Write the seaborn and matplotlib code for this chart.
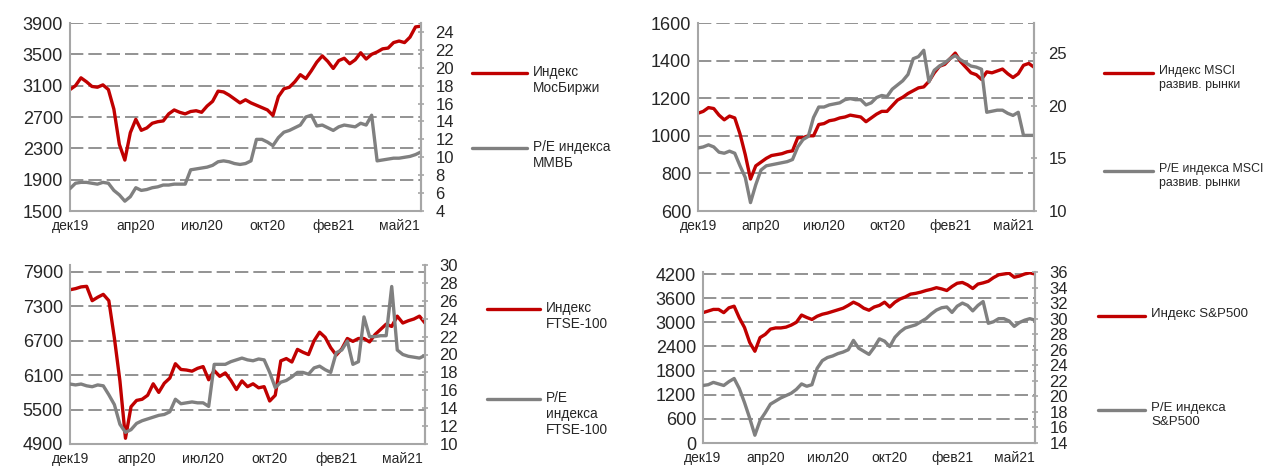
import numpy as np
import matplotlib.pyplot as plt
import seaborn as sns
from matplotlib.lines import Line2D

# x-axis labels (one label every 12 points)
month_labels = ["дек19", "апр20", "июл20", "окт20", "фев21", "май21"]
step = 12

# MOEX index and P/E of MICEX
moex = [3050, 3100, 3200, 3150, 3090, 3080, 3110, 3050, 2800, 2350,
        2150, 2500, 2670, 2530, 2560, 2620, 2640, 2650, 2740, 2790,
        2760, 2740, 2770, 2780, 2760, 2840, 2900, 3030, 3020, 2980,
        2930, 2880, 2920, 2880, 2850, 2820, 2790, 2720, 2960, 3060,
        3080, 3150, 3240, 3190, 3290, 3400, 3480, 3410, 3320, 3420,
        3450, 3380, 3430, 3520, 3440, 3500, 3530, 3570, 3580, 3650,
        3670, 3650, 3720, 3850, 3860]
moex_pe = [6.5, 7.1, 7.2, 7.2, 7.1, 7.0, 7.2, 7.1, 6.3, 5.8,
           5.1, 5.6, 6.6, 6.3, 6.4, 6.6, 6.7, 6.9, 6.9, 7.0,
           7.0, 7.0, 8.6, 8.7, 8.8, 8.9, 9.1, 9.5, 9.6, 9.5,
           9.3, 9.2, 9.3, 9.6, 12.0, 12.0, 11.7, 11.3, 12.2, 12.8,
           13.0, 13.3, 13.6, 14.5, 14.7, 13.5, 13.6, 13.3, 13.0, 13.4,
           13.6, 13.5, 13.4, 13.8, 13.6, 14.7, 9.6, 9.7, 9.8, 9.9,
           9.9, 10.0, 10.1, 10.3, 10.6]

# MSCI developed markets
msci = [1120, 1130, 1150, 1145, 1110, 1085, 1105, 1095, 1010, 900,
        770, 840, 860, 880, 895, 900, 905, 915, 920, 990,
        990, 1000, 1000, 1060, 1065, 1080, 1085, 1095, 1100, 1110,
        1105, 1100, 1075, 1095, 1115, 1130, 1130, 1160, 1190, 1205,
        1225, 1240, 1255, 1260, 1290, 1335, 1370, 1380, 1410, 1440,
        1395, 1365, 1335, 1325, 1300, 1340, 1335, 1345, 1355, 1330,
        1310, 1330, 1375, 1385, 1365]
msci_pe = [16.0, 16.1, 16.3, 16.1, 15.6, 15.5, 15.7, 15.5, 14.3, 13.2,
           10.8, 12.5, 13.9, 14.3, 14.4, 14.5, 14.6, 14.7, 14.9, 16.1,
           16.8, 17.1, 18.9, 19.9, 19.9, 20.1, 20.2, 20.3, 20.6, 20.7,
           20.6, 20.6, 20.1, 20.3, 20.8, 21.0, 20.9, 21.6, 22.0, 22.4,
           23.0, 24.5, 24.7, 25.3, 22.3, 23.4, 23.8, 24.1, 24.5, 24.8,
           24.4, 24.1, 23.8, 23.7, 23.5, 19.4, 19.5, 19.6, 19.6, 19.3,
           19.1, 19.4, 17.2, 17.2, 17.2]

# FTSE-100
ftse = [7590, 7610, 7640, 7650, 7400, 7460, 7510, 7400, 6750, 6000,
        5000, 5550, 5660, 5680, 5750, 5950, 5800, 5960, 6050, 6300,
        6200, 6190, 6170, 6220, 6250, 6020, 6180, 6080, 6140, 6010,
        5850, 6000, 5900, 5950, 5880, 5900, 5650, 5750, 6350, 6390,
        6330, 6550, 6500, 6460, 6700, 6850, 6760, 6580, 6450, 6560,
        6740, 6690, 6740, 6740, 6680, 6810, 6900, 6990, 6950, 7130,
        7010, 7050, 7080, 7130, 7010]
ftse_pe = [16.7, 16.6, 16.7, 16.5, 16.4, 16.6, 16.5, 15.5, 14.4, 12.2,
           11.3, 11.6, 12.3, 12.6, 12.8, 13.0, 13.2, 13.3, 13.6, 15.0,
           14.5, 14.6, 14.7, 14.6, 14.6, 14.2, 18.9, 18.9, 18.9, 19.2,
           19.4, 19.6, 19.4, 19.3, 19.5, 19.4, 18.0, 16.3, 16.9, 17.1,
           17.5, 18.0, 18.0, 17.8, 18.5, 18.7, 18.3, 18.0, 20.2, 20.5,
           21.5, 18.9, 19.2, 24.2, 22.0, 22.0, 22.1, 22.1, 27.6, 20.5,
           20.0, 19.8, 19.7, 19.6, 19.9]

# S&P500
spx = [3240, 3280, 3320, 3320, 3240, 3360, 3400, 3110, 2870, 2500,
       2280, 2620, 2700, 2830, 2860, 2860, 2880, 2930, 3000, 3180,
       3120, 3070, 3150, 3200, 3230, 3270, 3310, 3350, 3420, 3500,
       3440, 3350, 3300, 3380, 3420, 3500, 3380, 3500, 3580, 3630,
       3700, 3720, 3750, 3790, 3820, 3860, 3830, 3790, 3890, 3970,
       3990, 3930, 3840, 3950, 3980, 4020, 4110, 4180, 4200, 4220,
       4120, 4150, 4200, 4230, 4200]
spx_pe = [21.4, 21.5, 21.8, 21.6, 21.4, 21.9, 22.3, 21.0, 19.2, 17.2,
          15.0, 16.9, 17.9, 19.0, 19.4, 19.8, 20.1, 20.4, 20.9, 21.6,
          21.3, 21.5, 23.6, 24.6, 25.0, 25.2, 25.5, 25.7, 26.0, 27.2,
          26.2, 25.8, 25.4, 26.3, 27.4, 27.1, 26.4, 27.6, 28.3, 28.8,
          29.0, 29.2, 29.6, 30.0, 30.6, 31.1, 31.4, 31.5, 30.8, 31.6,
          32.0, 31.7, 31.0, 31.7, 32.2, 29.4, 29.6, 30.0, 30.0, 29.7,
          29.0, 29.5, 29.8, 30.0, 29.8]

RED = "#C00000"
GREY = "#808080"
AXIS = "#A6A6A6"

sns.set_style("white")
plt.rcParams["font.family"] = ["Liberation Sans", "DejaVu Sans"]

W, H = 1268, 472
fig = plt.figure(figsize=(W / 100, H / 100), dpi=100)


def box(l, t, r, b):
    return [l / W, 1 - b / H, (r - l) / W, (b - t) / H]


panels = [
    dict(rect=box(70, 23, 421, 211), left=moex, right=moex_pe,
         ylim=(1500, 3900), yticks=np.arange(1500, 3901, 400),
         rlim=(4, 25), rticks=np.arange(4, 25, 2), fs=9.8,
         legend=[(472, 527, 73, "Индекс\nМосБиржи"), (472, 527, 148, "P/E индекса\nММВБ")]),
    dict(rect=box(698, 23, 1034, 211), left=msci, right=msci_pe,
         ylim=(600, 1600), yticks=np.arange(600, 1601, 200),
         rlim=(10, 27.9), rticks=np.arange(10, 26, 5), fs=8.9,
         legend=[(1104, 1153, 73, "Индекс MSCI\nразвив. рынки"),
                 (1104, 1153, 171, "P/E индекса MSCI\nразвив. рынки")]),
    dict(rect=box(70, 265, 425, 444), left=ftse, right=ftse_pe,
         ylim=(4900, 8022), yticks=np.arange(4900, 7901, 600),
         rlim=(10, 30), rticks=np.arange(10, 31, 2), fs=9.8,
         legend=[(487, 540, 309, "Индекс\nFTSE-100"), (487, 540, 399, "P/E\nиндекса\nFTSE-100")]),
    dict(rect=box(703, 272, 1035, 443), left=spx, right=spx_pe,
         ylim=(0, 4250), yticks=np.arange(0, 4201, 600),
         rlim=(14, 36), rticks=np.arange(14, 37, 2), fs=9.5,
         legend=[(1098, 1145, 316, "Индекс S&P500"), (1098, 1145, 410, "P/E индекса\nS&P500")]),
]

for p in panels:
    ax = fig.add_axes(p["rect"])
    ax2 = ax.twinx()
    x = np.arange(len(p["left"]))
    sns.lineplot(x=x, y=p["left"], ax=ax, color=RED, linewidth=2.4)
    sns.lineplot(x=x, y=p["right"], ax=ax2, color=GREY, linewidth=2.4)

    ax.set_xlim(0, len(x) - 1)
    ax.set_xticks(np.arange(len(month_labels)) * step)
    ax.set_xticklabels(month_labels)
    ax.set_ylim(*p["ylim"])
    ax.set_yticks(p["yticks"])
    ax2.set_ylim(*p["rlim"])
    ax2.set_yticks(p["rticks"])

    ax.yaxis.grid(True, color=GREY, linestyle=(0, (8, 3)), linewidth=1.2)
    ax.xaxis.grid(False)
    ax.set_axisbelow(True)

    for a in (ax, ax2):
        a.spines["top"].set_visible(False)
        for s in ("left", "right", "bottom"):
            a.spines[s].set_color(AXIS)
            a.spines[s].set_linewidth(1.5)
    ax2.spines["left"].set_visible(False)
    ax2.spines["bottom"].set_visible(False)

    ax.tick_params(axis="y", length=0, labelsize=13, pad=5)
    ax.tick_params(axis="x", length=6, direction="inout", color=AXIS, width=1.2,
                   labelsize=10, pad=3)
    ax2.tick_params(axis="y", length=5, direction="inout", color=AXIS, width=1.2,
                    labelsize=12, pad=8)
    ax.set_xlabel("")
    ax.set_ylabel("")
    ax2.set_ylabel("")

    for (x0, x1, y, label), col in zip(p["legend"], (RED, GREY)):
        fig.add_artist(Line2D([x0 / W, x1 / W], [1 - y / H, 1 - y / H], color=col, linewidth=2.4))
        fig.text((x1 + 6) / W, 1 - (y - 8) / H, label, fontsize=p["fs"], va="top", ha="left",
                 linespacing=1.2)

fig.savefig("out.png", dpi=100)
